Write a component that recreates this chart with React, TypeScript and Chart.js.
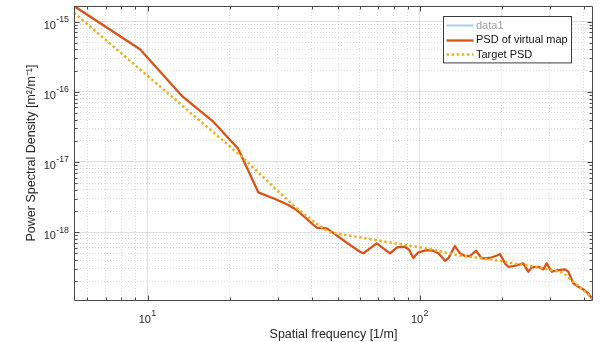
import React, { useEffect, useRef } from 'react';
import { Chart, registerables } from 'chart.js';

Chart.register(...registerables);

// ---- data ----
const psdFreq = [
  5.362, 9.37, 13.44, 17.41, 21.46, 25.48, 29.35, 32.83, 35.26, 41.76, 45.44, 47.4,
  55.34, 60.22, 61.93, 69.34, 77.6, 82.32, 88.08, 91.35, 94.49, 98.57, 105.8, 111.9,
  116.8, 123.6, 127.0, 134.4, 140.3, 146.3, 152.6, 160.6, 168.5, 180.7, 193.9, 196.7,
  205.2, 211.0, 220.1, 232.9, 239.5, 249.8, 257.1, 272.0, 283.8, 292.0, 304.6, 322.1,
  340.9, 350.5, 365.6, 381.4, 397.9, 415.0, 431.9,
];
const psdValues = [
  1.663e-15, 4.02e-16, 8.49e-17, 3.74e-17, 1.55e-17, 3.69e-18, 2.96e-18, 2.43e-18,
  2.06e-18, 1.155e-18, 1.13e-18, 1.01e-18, 6.55e-19, 5.26e-19, 4.99e-19, 6.93e-19,
  4.99e-19, 6.07e-19, 6.19e-19, 5.56e-19, 4.28e-19, 5.16e-19, 5.56e-19, 5.43e-19,
  4.99e-19, 3.91e-19, 4.23e-19, 6.34e-19, 4.99e-19, 4.57e-19, 4.57e-19, 5.43e-19,
  4.23e-19, 4.28e-19, 4.72e-19, 4.88e-19, 3.59e-19, 3.21e-19, 3.29e-19, 3.48e-19,
  3.59e-19, 2.73e-19, 3.15e-19, 3.21e-19, 2.95e-19, 3.59e-19, 2.73e-19, 2.88e-19,
  2.95e-19, 2.73e-19, 1.87e-19, 1.67e-19, 1.53e-19, 1.34e-19, 1.08e-19,
];

const targetFreq = [
  5.362, 22.14, 29.35, 34.75, 40.0, 46.05, 51.6, 62.8, 108.8, 136.4, 180.7, 220.1,
  275.9, 336.0, 365.6, 397.9, 431.9,
];
const targetValues = [
  1.335e-15, 1.19e-17, 4.21e-18, 2.3e-18, 1.49e-18, 1.01e-18, 9.31e-19, 8.17e-19,
  5.74e-19, 4.72e-19, 4.1e-19, 3.59e-19, 3.15e-19, 2.64e-19, 1.96e-19, 1.5e-19, 1.11e-19,
];

const data1Freq: number[] = [];
const data1Values: number[] = [];

const seriesLabels = ['data1', 'PSD of virtual map', 'Target PSD'];

const xTickValues = [6, 7, 8, 9, 10, 20, 30, 40, 50, 60, 70, 80, 90, 100, 200, 300, 400];
const yTickValues = [
  2e-19, 3e-19, 4e-19, 5e-19, 6e-19, 7e-19, 8e-19, 9e-19,
  1e-18, 2e-18, 3e-18, 4e-18, 5e-18, 6e-18, 7e-18, 8e-18, 9e-18,
  1e-17, 2e-17, 3e-17, 4e-17, 5e-17, 6e-17, 7e-17, 8e-17, 9e-17,
  1e-16, 2e-16, 3e-16, 4e-16, 5e-16, 6e-16, 7e-16, 8e-16, 9e-16,
  1e-15,
];
const tickBase = '10';

const X_MIN = 5.362;
const X_MAX = 431.9;
const Y_MIN = 1.08e-19;
const Y_MAX = 1.663e-15;

// ---- styling ----
const FONT = '"Liberation Sans", Arial, Helvetica, sans-serif';
const AXIS_COLOR = '#4a4a4a';
const TEXT_COLOR = '#262626';
const legendTextColors = ['#a0a0a0', '#111111', '#111111'];

const isPow10 = (v: number) => {
  const e = Math.round(Math.log10(v));
  return Math.abs(v / Math.pow(10, e) - 1) < 1e-6;
};
const exponentOf = (v: number) => String(Math.round(Math.log10(v)));

const toPoints = (xs: number[], ys: number[]) => xs.map((x, i) => ({ x, y: ys[i] }));

// draws decade labels as "10" with a raised exponent, at the positions of the scale's ticks
const powerLabelsPlugin = {
  id: 'powerLabels',
  afterDraw(chart: any) {
    const { ctx, scales, chartArea } = chart;
    const baseFont = `11px ${FONT}`;
    const expFont = `8.8px ${FONT}`;
    ctx.save();
    ctx.fillStyle = TEXT_COLOR;
    ctx.textBaseline = 'alphabetic';
    ctx.textAlign = 'left';
    scales.x.ticks.forEach((t: any) => {
      if (!isPow10(t.value)) return;
      const px = scales.x.getPixelForValue(t.value);
      const ex = exponentOf(t.value);
      ctx.font = baseFont;
      const wb = ctx.measureText(tickBase).width;
      ctx.font = expFont;
      const we = ctx.measureText(ex).width;
      const x0 = px - (wb + we) / 2 - 0.5;
      const baseY = chartArea.bottom + 22.7;
      ctx.font = baseFont;
      ctx.fillText(tickBase, x0, baseY);
      ctx.font = expFont;
      ctx.fillText(ex, x0 + wb + 0.3, baseY - 6.6);
    });
    scales.y.ticks.forEach((t: any) => {
      if (!isPow10(t.value)) return;
      const py = scales.y.getPixelForValue(t.value);
      const ex = exponentOf(t.value);
      ctx.font = baseFont;
      const wb = ctx.measureText(tickBase).width;
      ctx.font = expFont;
      const we = ctx.measureText(ex).width;
      const right = chartArea.left - 5;
      const x0 = right - we - wb - 0.3;
      const baseY = py + 7.0;
      ctx.font = baseFont;
      ctx.fillText(tickBase, x0, baseY);
      ctx.font = expFont;
      ctx.fillText(ex, x0 + wb + 0.3, baseY - 6.6);
    });
    ctx.restore();
  },
};

const boxPlugin = {
  id: 'matlabBox',
  afterDraw(chart: any) {
    const { ctx, chartArea, scales } = chart;
    const { left, right, top, bottom } = chartArea;
    ctx.save();
    ctx.strokeStyle = AXIS_COLOR;
    ctx.lineWidth = 1;
    const L = Math.round(left) + 0.5;
    const R = Math.round(right) - 0.5;
    const T = Math.round(top) + 0.5;
    const B = Math.round(bottom) + 0.5;
    ctx.beginPath();
    ctx.rect(L, T, R - L, B - T);
    ctx.stroke();
    // inward ticks
    ctx.beginPath();
    scales.x.ticks.forEach((t: any) => {
      const px = Math.round(scales.x.getPixelForValue(t.value)) + 0.5;
      const len = isPow10(t.value) ? 5 : 3;
      ctx.moveTo(px, B);
      ctx.lineTo(px, B - len);
      ctx.moveTo(px, T);
      ctx.lineTo(px, T + len);
    });
    scales.y.ticks.forEach((t: any) => {
      const py = Math.round(scales.y.getPixelForValue(t.value)) + 0.5;
      const len = isPow10(t.value) ? 5 : 3;
      ctx.moveTo(L, py);
      ctx.lineTo(L + len, py);
      ctx.moveTo(R, py);
      ctx.lineTo(R - len, py);
    });
    ctx.stroke();
    ctx.restore();
  },
};

const legendPlugin = {
  id: 'matlabLegend',
  afterDraw(chart: any) {
    const { ctx, chartArea } = chart;
    const ds = chart.data.datasets;
    ctx.save();
    ctx.font = `11px ${FONT}`;
    const rowH = 14.4;
    const padL = 3;
    const sample = 27;
    const gap = 2.5;
    const textW = Math.max(...ds.map((d: any) => ctx.measureText(d.label).width));
    const w = padL + sample + gap + textW + 4.5;
    const h = 8.8 * 2 + rowH * (ds.length - 1);
    const right = Math.round(chartArea.right - 22) + 0.5;
    const top = Math.round(chartArea.top + 10) + 0.5;
    const left = Math.round(right - w) + 0.5;
    ctx.fillStyle = '#ffffff';
    ctx.fillRect(left, top, right - left, h);
    ctx.strokeStyle = '#3c3c3c';
    ctx.lineWidth = 1;
    ctx.strokeRect(left, top, right - left, h);
    ds.forEach((d: any, i: number) => {
      const cy = top + 8.8 + i * rowH;
      ctx.save();
      ctx.strokeStyle = d.borderColor;
      ctx.lineWidth = d.borderWidth;
      ctx.setLineDash(d.borderDash || []);
      ctx.beginPath();
      ctx.moveTo(left + padL, Math.round(cy) + 0.5);
      ctx.lineTo(left + padL + sample, Math.round(cy) + 0.5);
      ctx.stroke();
      ctx.restore();
      ctx.fillStyle = legendTextColors[i];
      ctx.textBaseline = 'middle';
      ctx.textAlign = 'left';
      ctx.fillText(d.label, left + padL + sample + gap, cy + 0.5);
    });
    ctx.restore();
  },
};

const majorGrid = 'rgba(38,38,38,0.14)';
const minorGrid = 'rgba(38,38,38,0.16)';

export default function App() {
  const canvasRef = useRef<HTMLCanvasElement | null>(null);

  useEffect(() => {
    const canvas = canvasRef.current;
    if (!canvas) return;
    const chart = new Chart(canvas, {
      type: 'line',
      data: {
        datasets: [
          {
            label: seriesLabels[0],
            data: toPoints(data1Freq, data1Values),
            borderColor: '#a9cbe8',
            borderWidth: 2,
            pointRadius: 0,
            order: 2,
          },
          {
            label: seriesLabels[1],
            data: toPoints(psdFreq, psdValues),
            borderColor: '#D95319',
            borderWidth: 2.3,
            pointRadius: 0,
            tension: 0,
            borderJoinStyle: 'round',
            order: 1,
          },
          {
            label: seriesLabels[2],
            data: toPoints(targetFreq, targetValues),
            borderColor: '#EDB120',
            borderWidth: 2.5,
            borderDash: [2.5, 2.6],
            borderCapStyle: 'butt',
            pointRadius: 0,
            tension: 0,
            order: 0,
          },
        ],
      },
      options: {
        animation: false,
        responsive: false,
        devicePixelRatio: 1,
        events: [],
        layout: { padding: { left: 0, right: 8, top: 6, bottom: 0 } },
        plugins: {
          legend: { display: false },
          tooltip: { enabled: false },
        },
        scales: {
          x: {
            type: 'logarithmic',
            position: 'bottom',
            min: X_MIN,
            max: X_MAX,
            afterBuildTicks: (s: any) => {
              s.ticks = xTickValues.map((v) => ({ value: v, major: isPow10(v) }));
            },
            afterFit: (s: any) => {
              s.height = 42;
              s.paddingLeft = 0;
              s.paddingRight = 0;
            },
            ticks: {
              display: false,
              autoSkip: false,
              maxRotation: 0,
              minRotation: 0,
            },
            grid: {
              drawTicks: false,
              lineWidth: 1,
              color: (c: any) => (c.tick && isPow10(c.tick.value) ? majorGrid : minorGrid),
            },
            border: {
              display: false,
              dash: (c: any) => (c.tick && !isPow10(c.tick.value) ? [1, 2] : []),
            },
            title: {
              display: true,
              text: 'Spatial frequency [1/m]',
              color: TEXT_COLOR,
              font: { family: FONT, size: 12.5, lineHeight: 1.2 },
              padding: { top: 0, bottom: 0 },
            },
          },
          y: {
            type: 'logarithmic',
            position: 'left',
            min: Y_MIN,
            max: Y_MAX,
            afterBuildTicks: (s: any) => {
              s.ticks = yTickValues.map((v) => ({ value: v, major: isPow10(v) }));
            },
            afterFit: (s: any) => {
              s.width = 74;
              s.paddingTop = 0;
              s.paddingBottom = 0;
            },
            ticks: {
              display: false,
              autoSkip: false,
            },
            grid: {
              drawTicks: false,
              lineWidth: 1,
              color: (c: any) => (c.tick && isPow10(c.tick.value) ? majorGrid : minorGrid),
            },
            border: {
              display: false,
              dash: (c: any) => (c.tick && !isPow10(c.tick.value) ? [1, 2] : []),
            },
            title: {
              display: true,
              text: 'Power Spectral Density [m²/m⁻¹]',
              color: TEXT_COLOR,
              font: { family: FONT, size: 12.5, lineHeight: 1.2 },
              padding: { top: 24, bottom: 0 },
            },
          },
        },
      },
      plugins: [boxPlugin, powerLabelsPlugin, legendPlugin],
    } as any);
    return () => chart.destroy();
  }, []);

  return (
    <div style={{ position: 'fixed', left: 0, top: 0, width: 601, height: 342, background: '#fff' }}>
      <canvas ref={canvasRef} width={601} height={342} style={{ display: 'block' }} />
    </div>
  );
}
